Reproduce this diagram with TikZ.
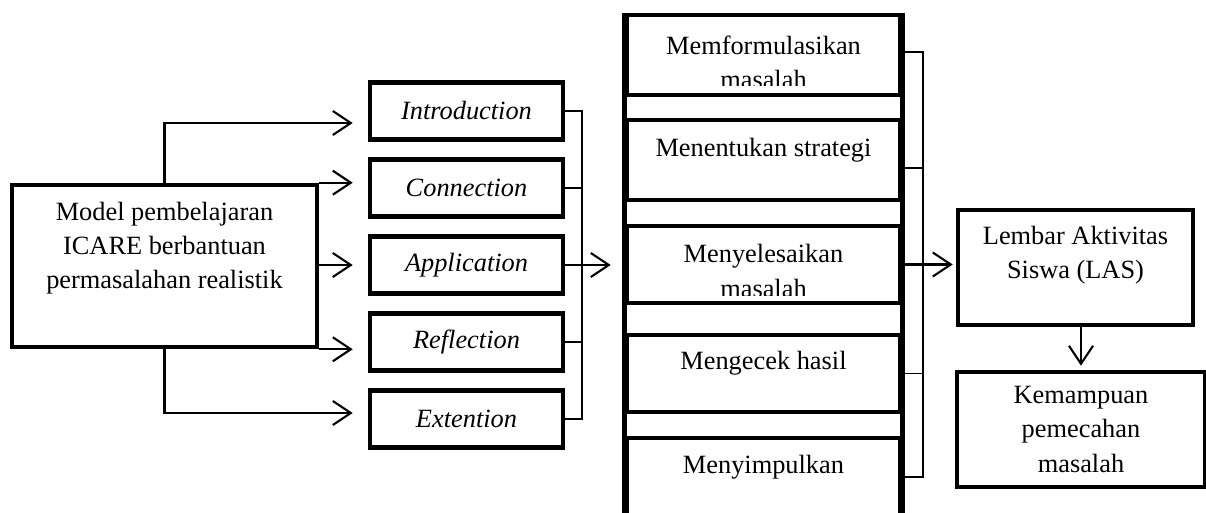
\documentclass[tikz,border=0pt]{standalone}
\usepackage{fontspec}
\setmainfont{Liberation Serif}
\usetikzlibrary{arrows.meta,calc,positioning}

\begin{document}
\begin{tikzpicture}[x=1cm,y=1cm,
  font=\fontsize{15}{19.5}\selectfont,
  frame/.style={draw,line width=2.6pt,inner sep=0pt,align=center},
  phase/.style={frame,minimum width=3.86cm,minimum height=1.14cm,
    font=\fontsize{15}{19.5}\selectfont\itshape},
  stage/.style={frame,minimum width=5.46cm},
  txt/.style={align=center,inner sep=0pt},
  link/.style={line width=1.2pt,-{Straight Barb[length=3.6mm,width=4.8mm]}},
  brace/.style={line width=1pt}]
  \useasboundingbox (0,0) rectangle (24.12,10.26);
  % Model box and the five ICARE phases.
  \node[frame,minimum width=6.1cm,minimum height=3.24cm] (model) at (3.29,4.94) {};
  \node[txt] (modeltxt) at (3.29,5.30) {Model pembelajaran\\ICARE berbantuan\\permasalahan realistik};
  \foreach \n/\y/\title in {intro/8.04/Introduction,conn/6.50/Connection,
    appl/4.96/Application,refl/3.42/Reflection,ext/1.88/Extention}
    \node[phase] (\n) at (9.33,\y) {\title};
  \draw[link,shorten >=.3cm] (model.north) |- ([yshift=-.24cm]intro.west);
  \draw[link,shorten >=.3cm] (model.north east) -- (model.north east -| conn.west);
  \draw[link,shorten >=.3cm] (model.east |- appl) -- (appl.west);
  \draw[link,shorten >=.3cm] (model.south east) -- (model.south east -| refl.west);
  \draw[link,shorten >=.3cm] (model.south) |- ([yshift=.12cm]ext.west);
  % Bracket joining the phases.
  \coordinate (lbrk) at (11.64,0);
  \draw[brace] (intro.east) -- (intro.east -| lbrk) -- (ext.east -| lbrk) -- (ext.east);
  \foreach \n in {conn,appl,refl} \draw[brace] (\n.east) -- (\n.east -| lbrk);
  % Problem solving column; the last box runs off the page.
  \foreach \n/\y/\h in {form/9.16/1.6,strat/7.06/1.6,solve/4.97/1.54,
    check/2.79/1.54,concl/0.72/1.56}
    \node[stage,minimum height=\h cm] (\n) at (15.27,\y) {};
  \draw[line width=2.6pt] (form.north west) -- (concl.south west);
  \draw[line width=2.6pt] (form.north east) -- (concl.south east);
  \begin{scope}
    \clip (form.north west) rectangle ([yshift=.24cm]form.south east);
    \node[txt] (formtxt) at (15.27,9.01) {Memformulasikan\\masalah};
  \end{scope}
  \begin{scope}
    \clip (solve.north west) rectangle ([yshift=.2cm]solve.south east);
    \node[txt] (solvetxt) at (15.27,4.84) {Menyelesaikan\\masalah};
  \end{scope}
  \node[txt] (strattxt) at (15.27,7.26) {Menentukan strategi};
  \node[txt] (checktxt) at (15.27,3.00) {Mengecek hasil};
  \node[txt] (concltxt) at (15.27,0.92) {Menyimpulkan};
  \draw[link,shorten >=.28cm] (appl.east) -- (appl.east -| solve.west);
  % Bracket joining the steps.
  \coordinate (rbrk) at (18.46,0);
  \draw[brace] ([yshift=.06cm]form.east) -- ([yshift=.06cm]form.east -| rbrk)
    -- (concl.east -| rbrk) -- (concl.east);
  \draw[brace] ([yshift=-.16cm]strat.east) -- ([yshift=-.16cm]strat.east -| rbrk);
  \draw[brace] (check.east) -- (check.east -| rbrk);
  % Worksheet and outcome.
  \node[frame,minimum width=4.7cm,minimum height=2.3cm] (las) at (21.51,4.91) {};
  \node[txt] (lastxt) at (21.51,5.16) {Lembar Aktivitas\\Siswa (LAS)};
  \node[frame,minimum width=4.96cm,minimum height=2.3cm] (kem) at (21.62,1.67)
    {Kemampuan\\pemecahan\\masalah};
  \draw[link,shorten >=.06cm] (solve.east) -- (solve.east -| las.west);
  \draw[link,shorten >=.08cm] (kem.north |- las.south) -- (kem.north);
\end{tikzpicture}
\end{document}
